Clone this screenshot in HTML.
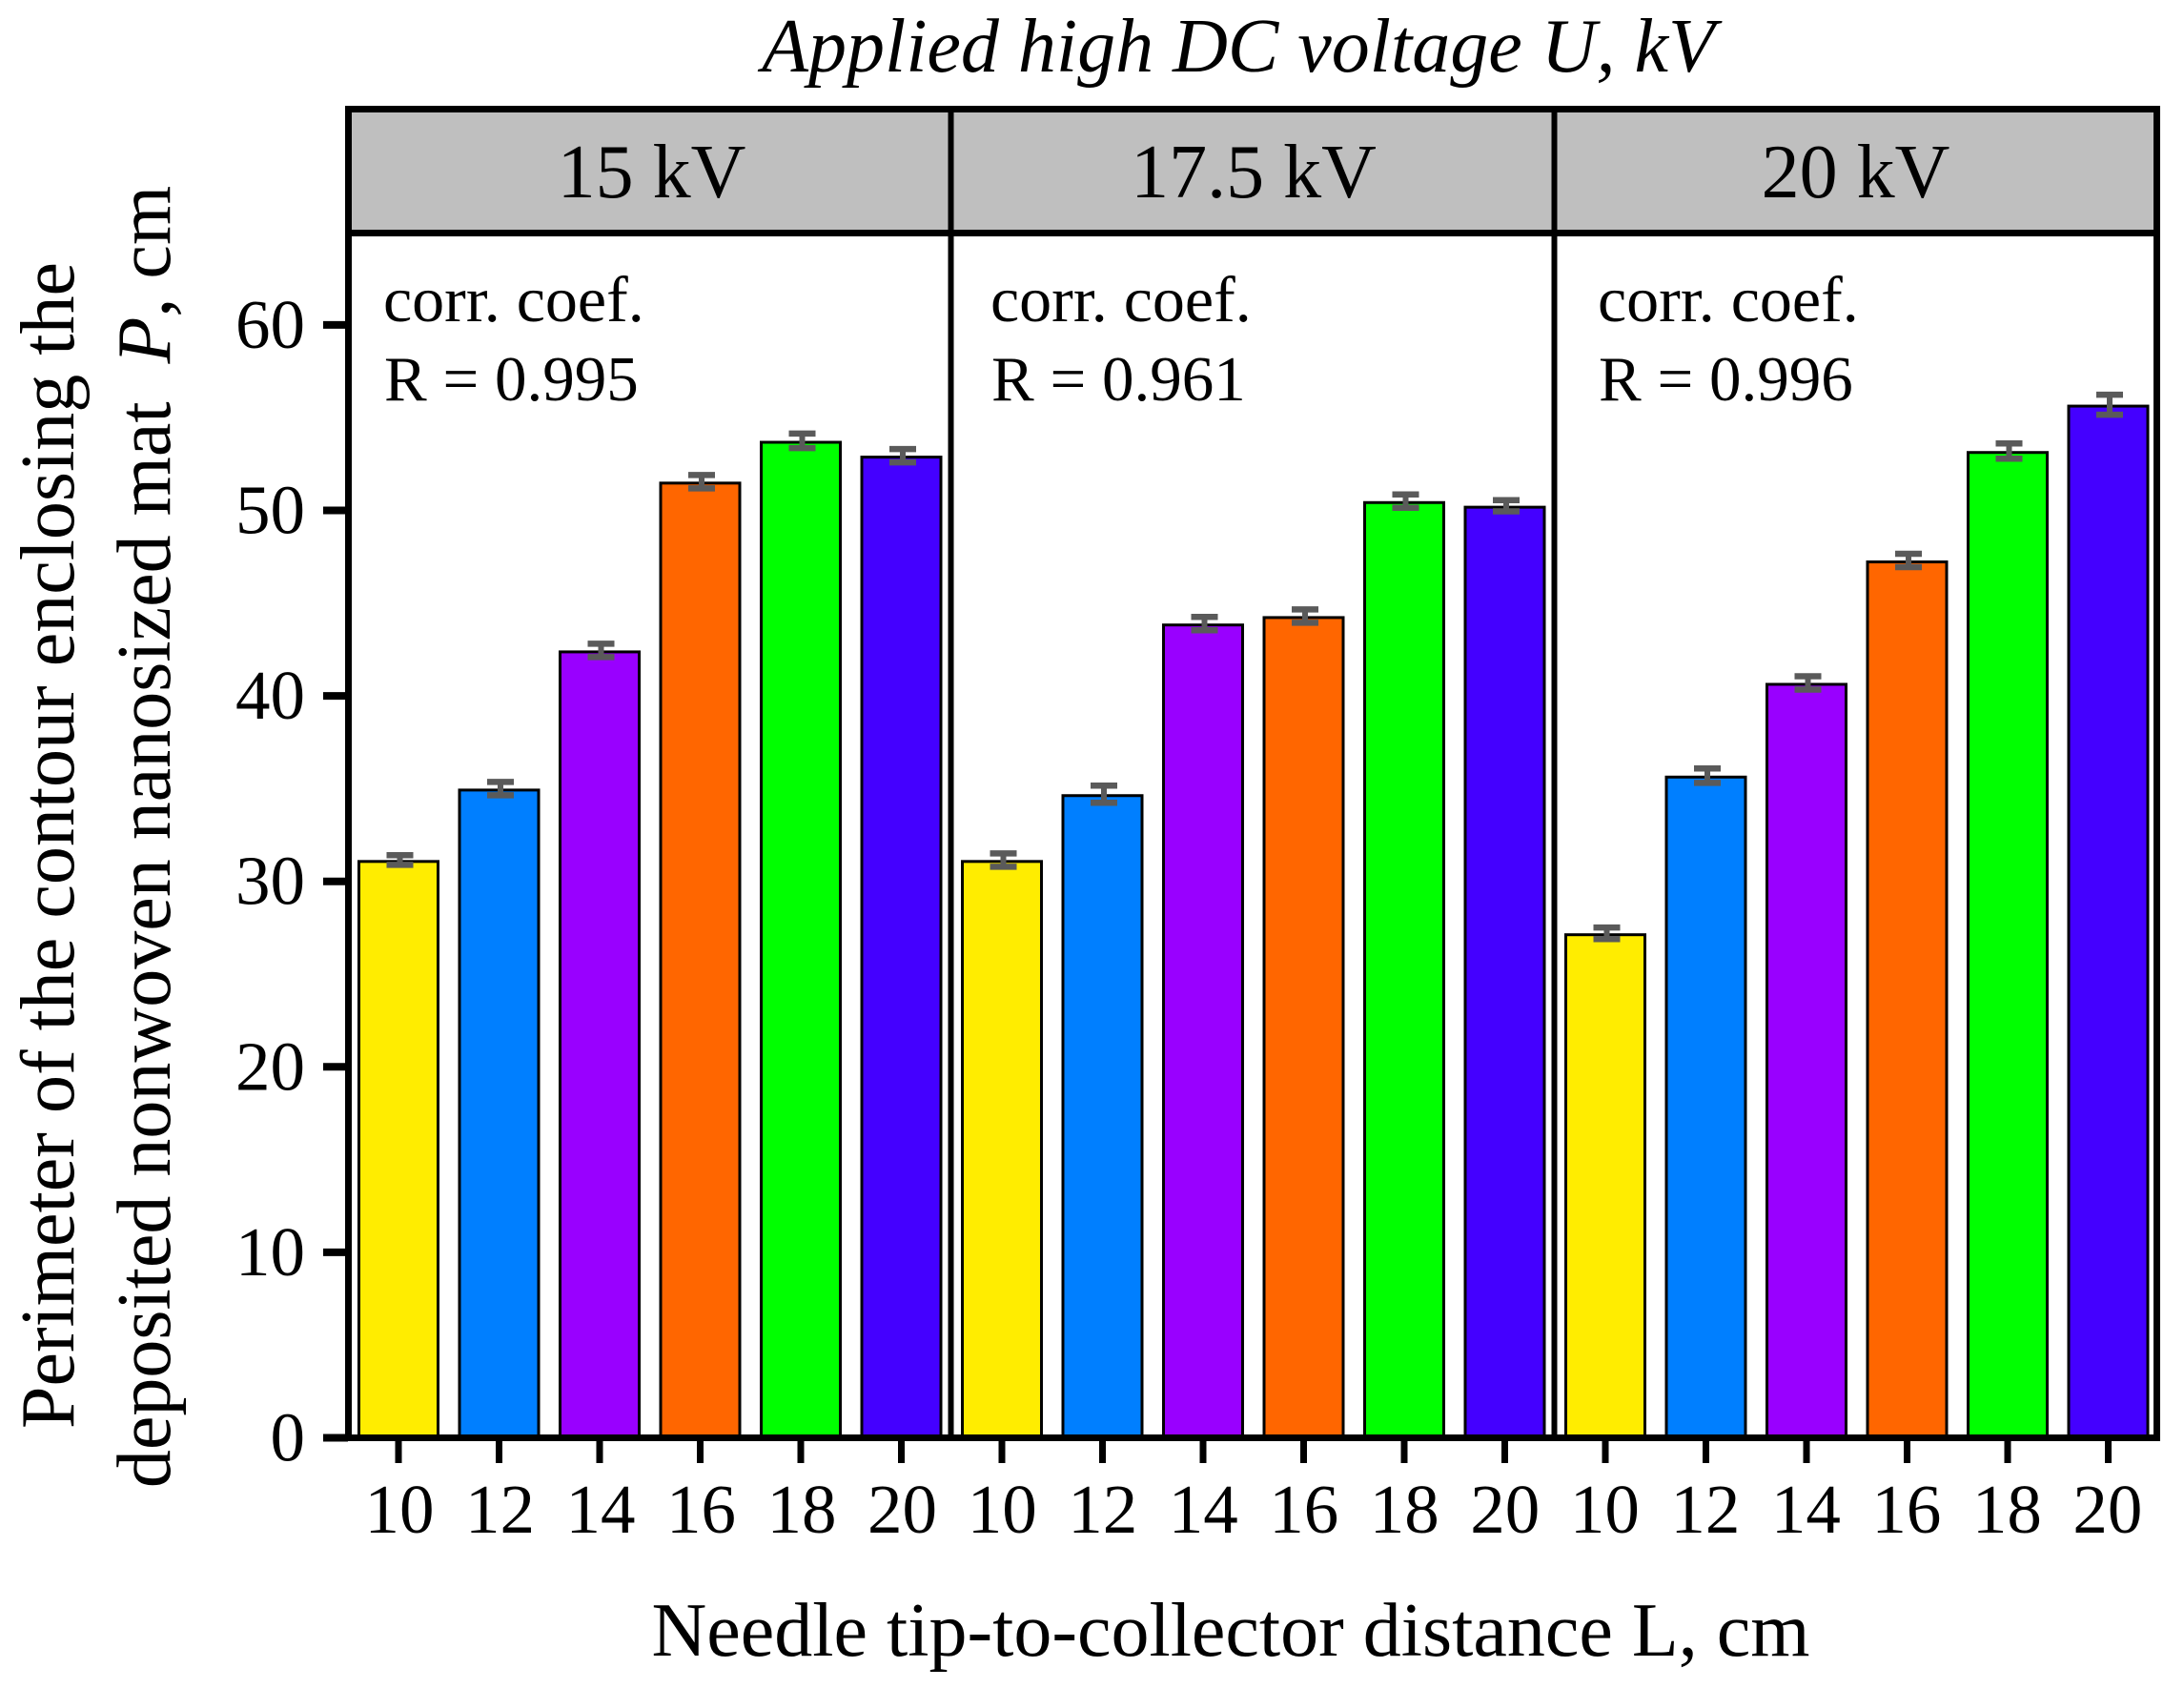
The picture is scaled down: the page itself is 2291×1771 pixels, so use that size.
<!DOCTYPE html>
<html lang="en">
<head>
<meta charset="utf-8">
<title>Perimeter of deposited nonwoven nanosized mat</title>
<style>
html,body{margin:0;padding:0;background:#fff;width:2291px;height:1771px;overflow:hidden}
svg{display:block}
text{font-family:"Liberation Serif",serif;fill:#000;white-space:pre}
</style>
</head>
<body>
<svg id="chart" xmlns="http://www.w3.org/2000/svg" width="2291" height="1771" viewBox="0 0 2291 1771">
  <rect width="2291" height="1771" fill="#fff"/>
  <text x="1299" y="75" font-size="80" font-style="italic" text-anchor="middle">Applied high DC voltage U, kV</text>
  <text transform="translate(77 887) rotate(-90)" font-size="80" text-anchor="middle">Perimeter of the contour enclosing the</text>
  <text transform="translate(178 878) rotate(-90)" font-size="80" text-anchor="middle">deposited nonwoven nanosized mat  <tspan font-style="italic">P</tspan>, cm</text>
  <text x="1291" y="1737" font-size="80" text-anchor="middle">Needle tip-to-collector distance L, cm</text>
  <g id="plot"></g>
</svg>
<script>
const categories = [10, 12, 14, 16, 18, 20];
const panelLabels = ["15 kV", "17.5 kV", "20 kV"];
const corrLabels = ["R = 0.995", "R = 0.961", "R = 0.996"];
const yTicks = [0, 10, 20, 30, 40, 50, 60];
const valuesPanel1 = [31.15, 35.0, 42.45, 51.55, 53.75, 52.95];
const valuesPanel2 = [31.15, 34.7, 43.9, 44.3, 50.5, 50.25];
const valuesPanel3 = [27.2, 35.7, 40.7, 47.3, 53.2, 55.7];
const errorsPanel1 = [0.26, 0.36, 0.36, 0.36, 0.39, 0.36];
const errorsPanel2 = [0.36, 0.46, 0.36, 0.36, 0.36, 0.3];
const errorsPanel3 = [0.31, 0.39, 0.36, 0.36, 0.41, 0.54];
const barColors = ["#FFED00", "#007FFF", "#9900FF", "#FF6600", "#00FF00", "#4400FF"];

const allValues = [valuesPanel1, valuesPanel2, valuesPanel3];
const allErrors = [errorsPanel1, errorsPanel2, errorsPanel3];

const NS = "http://www.w3.org/2000/svg";
const plot = document.getElementById("plot");

function yScale(v) { return 1508.5 - v * 19.46; }
function xScale(panel, index) { return 418 + panel * 633 + index * 105.5; }

function shape(tag, attrs, parent) {
  const el = document.createElementNS(NS, tag);
  for (const k in attrs) el.setAttribute(k, attrs[k]);
  (parent || plot).appendChild(el);
  return el;
}

const panelEdges = [365.5, 997.5, 1630.5, 2262.5];

panelLabels.forEach(function (label, p) {
  const header = shape("rect", { x: panelEdges[p], y: 114, width: panelEdges[p + 1] - panelEdges[p], height: 130, fill: "#BFBFBF" });
  
  
  const headerText = shape("text", { x: (panelEdges[p] + panelEdges[p + 1]) / 2 + 2 - p, y: 207, "font-size": 80, "text-anchor": "middle" });
  headerText.textContent = label;
  
  

  const textX = 402 + p * 637;
  const corr = shape("text", { x: textX, y: 337, "font-size": 68 });
  corr.textContent = "corr. coef.";
  
  
  const r = shape("text", { x: textX + 1, y: 420, "font-size": 67 });
  r.textContent = corrLabels[p];
  
  

  categories.forEach(function (cat, i) {
    const cx = xScale(p, i);
    const value = allValues[p][i];
    const err = allErrors[p][i];
    const top = yScale(value);
    const bar = shape("rect", { x: cx - 41.5, y: top + 1.5, width: 83, height: yScale(0) - top - 1.5, fill: barColors[i], stroke: "#000", "stroke-width": 3 });
    
    

    const ex = cx + 1.5;
    const yHi = yScale(value + err);
    const yLo = yScale(value - err);
    const stem = shape("line", { x1: ex, x2: ex, y1: yHi, y2: yLo, stroke: "#5A5A5A", "stroke-width": 6 });
    
    
    [yHi, yLo].forEach(function (capY) {
      const cap = shape("line", { x1: ex - 14, x2: ex + 14, y1: capY, y2: capY, stroke: "#5A5A5A", "stroke-width": 6.5 });
      
      
    });

    const tick = shape("line", { x1: cx, x2: cx, y1: 1508, y2: 1535, stroke: "#000", "stroke-width": 7 });
    
    
    const tickLabel = shape("text", { x: cx + 1 - p * 0.8, y: 1608, "font-size": 73, "text-anchor": "middle" });
    tickLabel.textContent = cat;
    
    
  });
});

yTicks.forEach(function (v) {
  const y = yScale(v);
  const tick = shape("line", { x1: 339, x2: 365, y1: y, y2: y, stroke: "#000", "stroke-width": 8 });
  
  
  const label = shape("text", { x: 320, y: y + 24, "font-size": 73, "text-anchor": "end" });
  label.textContent = v;
  
  
});

/* frame */
const topRule = shape("line", { x1: 362, x2: 2266, y1: 114.5, y2: 114.5, stroke: "#000", "stroke-width": 7 });


const headerRule = shape("line", { x1: 362, x2: 2266, y1: 244.5, y2: 244.5, stroke: "#000", "stroke-width": 7 });


const baseline = shape("line", { x1: 339, x2: 2266, y1: 1508.5, y2: 1508.5, stroke: "#000", "stroke-width": 7 });


panelEdges.forEach(function (ex, i) {
  const edge = shape("line", { x1: ex, x2: ex, y1: 111, y2: 1512, stroke: "#000", "stroke-width": (i === 0 || i === 3) ? 7 : 6 });
  
  
});
</script>
</body>
</html>
